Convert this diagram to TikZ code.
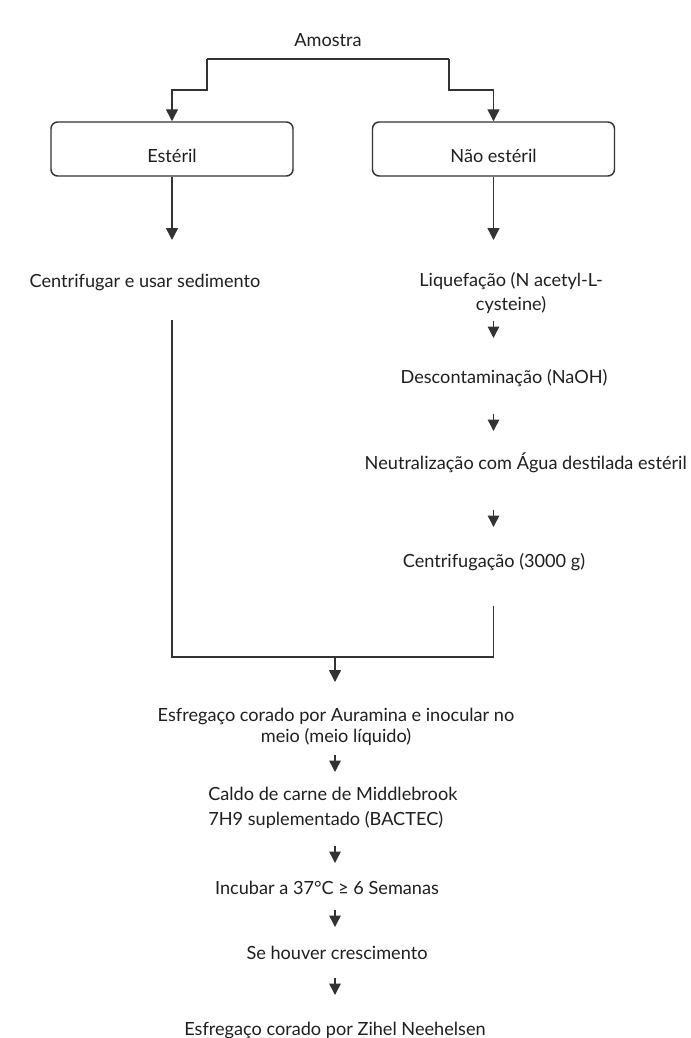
\documentclass[tikz,border=0pt]{standalone}
\usepackage{fontspec}
\setmainfont{Lato}
\usetikzlibrary{arrows.meta}
\definecolor{ink}{gray}{0.2}
\definecolor{txtc}{gray}{0.12}
\begin{document}
\begin{tikzpicture}[x=0.75pt,y=-0.75pt,
  txt/.style={text=txtc, inner sep=0pt, font=\fontsize{13.6}{16}\selectfont},
  box/.style={draw=ink, line width=1.1pt, rounded corners=5pt, minimum width=181.5pt,
    minimum height=40.5pt, text height=19.5pt, text depth=0pt, inner sep=0pt,
    text=txtc, font=\fontsize{13.6}{16}\selectfont},
  conn/.style={draw=ink, line width=1.1pt},
  arr/.style={conn, -{Triangle[width=9pt,length=9pt]}},
  sarr/.style={conn, -{Triangle[width=8.5pt,length=8.5pt]}}]
\useasboundingbox[fill=white] (0,0) rectangle (690,1038);

% nodes
\node[txt] (amostra) at (328,40) {Amostra};
\node[box] (est) at (172,149) {Estéril};
\node[box] (nao) at (493.5,149) {Não estéril};
\node[txt] (centrif) at (145,282) {Centrifugar e usar sedimento};
\node[txt, align=center, font=\fontsize{13.6}{17.5}\selectfont] (liq) at (511,293) {Liquefação (N acetyl-L-\\cysteine)};
\node[txt] (desc) at (504,378) {Descontaminação (NaOH)};
\node[txt, anchor=east] (neut) at (687,463) {Neutralização com Água destilada estéril};
\node[txt] (cg) at (494,562) {Centrifugação (3000 g)};
\node[txt, align=center, font=\fontsize{13.6}{15.75}\selectfont] (esf1) at (336,727) {Esfregaço corado por Auramina e inocular no\\meio (meio líquido)};
\node[txt, align=left, anchor=west, font=\fontsize{13.6}{18.75}\selectfont] (caldo) at (208,808) {Caldo de carne de Middlebrook\\7H9 suplementado (BACTEC)};
\node[txt] (incub) at (327,888) {Incubar a 37°C ≥ 6 Semanas};
\node[txt] (sehouver) at (337,953) {Se houver crescimento};
\node[txt] (esf2) at (335,1030) {Esfregaço corado por Zihel Neehelsen};

% coordinates
\coordinate (tl) at (207,59);
\coordinate (tr) at (449,59);
\coordinate (tlk) at (207,90);
\coordinate (trk) at (449,90);
\coordinate (a1) at (172,240);
\coordinate (a2) at (493.5,240);
\coordinate (lstart) at (172,320);
\coordinate (rstart) at (493.5,606);
\coordinate (join) at (335,657);
\coordinate (jtip) at (335,682);
\coordinate (s1a) at (493.5,321); \coordinate (s1b) at (493.5,338);
\coordinate (s2a) at (493.5,414); \coordinate (s2b) at (493.5,431);
\coordinate (s3a) at (493.5,510); \coordinate (s3b) at (493.5,527);
\coordinate (s4a) at (335,755); \coordinate (s4b) at (335,772);
\coordinate (s5a) at (335,846); \coordinate (s5b) at (335,863);
\coordinate (s6a) at (335,910); \coordinate (s6b) at (335,927);
\coordinate (s7a) at (335,978); \coordinate (s7b) at (335,995);

% connectors
\draw[conn] (tl) -- (tr);
\draw[arr] (tl) -- (tlk) -| (est.north);
\draw[arr] (tr) -- (trk) -| (nao.north);
\draw[arr] (est.south) -- (a1);
\draw[arr] (nao.south) -- (a2);
\draw[conn] (lstart) |- (join) -| (rstart);
\draw[arr] (join) -- (jtip);
\draw[sarr] (s1a) -- (s1b);
\draw[sarr] (s2a) -- (s2b);
\draw[sarr] (s3a) -- (s3b);
\draw[sarr] (s4a) -- (s4b);
\draw[sarr] (s5a) -- (s5b);
\draw[sarr] (s6a) -- (s6b);
\draw[sarr] (s7a) -- (s7b);
\end{tikzpicture}
\end{document}
